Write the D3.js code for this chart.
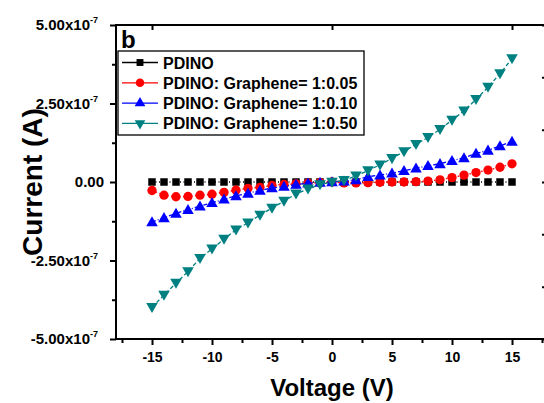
<!DOCTYPE html>
<html>
<head>
<meta charset="utf-8">
<script src="https://cdn.jsdelivr.net/npm/d3@7"></script>
<style>
  body { margin: 0; background: #fff; }
  svg { display: block; font-family: "Liberation Sans", Arial, sans-serif; font-weight: bold; }
</style>
</head>
<body>
<svg width="544" height="403"></svg>
<script>
// напряжение, В
const voltage = d3.range(-15, 16, 1);

// ток, 1e-7 А
const curPdino = [0,0,0,0,0,0,0,0,0,0,0,0,0,0,0,0,0,0,0,0,0,0,0,0,0,0,0,0,0,0,0];
const cur005 = [-0.27,-0.42,-0.47,-0.46,-0.42,-0.39,-0.33,-0.26,-0.2,-0.17,-0.11,-0.08,-0.06,-0.04,-0.02,0,
                -0.03,-0.03,-0.02,-0.01,0,0,0.01,0.03,0.07,0.14,0.22,0.3,0.38,0.47,0.58];
const cur010 = [-1.27,-1.14,-1.0,-0.88,-0.77,-0.66,-0.55,-0.44,-0.36,-0.27,-0.19,-0.14,-0.08,-0.04,-0.01,0,
                0.03,0.07,0.17,0.22,0.28,0.36,0.44,0.52,0.58,0.68,0.77,0.91,1.01,1.15,1.29];
const cur050 = [-3.99,-3.6,-3.22,-2.85,-2.43,-2.13,-1.82,-1.52,-1.3,-1.05,-0.83,-0.61,-0.38,-0.22,-0.08,0,
                0.05,0.2,0.36,0.55,0.75,0.97,1.2,1.42,1.68,1.97,2.27,2.63,3.02,3.45,3.93];

const seriesNames = ["PDINO", "PDINO: Graphene= 1:0.05", "PDINO: Graphene= 1:0.10", "PDINO: Graphene= 1:0.50"];
const seriesColors = ["#000000", "#ff0000", "#0000ff", "#008080"];

const xTicks = [-15, -10, -5, 0, 5, 10, 15];
const xMinor = [-17.5, -12.5, -7.5, -2.5, 2.5, 7.5, 12.5, 17.5];
const yTicks = [-5e-7, -2.5e-7, 0, 2.5e-7, 5e-7];
const yLabels = ["-5.00x10", "-2.50x10", "0.00", "2.50x10", "5.00x10"];
const yMinor = [-3.75e-7, -1.25e-7, 1.25e-7, 3.75e-7];
const topTicks = [-15, 0, 15];

const svg = d3.select("svg");

const area = { left: 116, right: 548, top: 25, bottom: 339 };

const scX = d3.scaleLinear().domain([-18, 18]).range([area.left, area.right]);
const scY = d3.scaleLinear().domain([-5e-7, 5e-7]).range([area.bottom, area.top]);
const scY2 = d3.scaleLinear().domain([0, 6]).range([area.bottom, area.top]);

// оси
function styleAxis(g) {
    g.select(".domain").remove();
    g.selectAll("line").attr("stroke", "#000").attr("stroke-width", 2);
    g.selectAll("text").attr("fill", "#000").style("font-size", "14px").style("font-weight", "bold");
}

svg.append("g")
    .attr("transform", `translate(0, ${area.bottom})`)
    .call(d3.axisBottom(scX).tickValues(xTicks).tickSize(6).tickPadding(7).tickFormat(d => String(d)))
    .call(styleAxis);

svg.append("g")
    .attr("transform", `translate(0, ${area.bottom})`)
    .call(d3.axisBottom(scX).tickValues(xMinor).tickSize(4).tickFormat(""))
    .call(styleAxis);

svg.append("g")
    .attr("transform", `translate(${area.left}, 0)`)
    .call(d3.axisLeft(scY).tickValues(yTicks).tickSize(6).tickFormat(""))
    .call(styleAxis);

svg.append("g")
    .attr("transform", `translate(${area.left}, 0)`)
    .call(d3.axisLeft(scY).tickValues(yMinor).tickSize(4).tickFormat(""))
    .call(styleAxis);

// подписи оси Y с показателем степени
yTicks.forEach((v, i) => {
    const t = svg.append("text")
        .attr("x", v === 0 ? area.left - 12 : area.left - 18)
        .attr("y", scY(v) + 5)
        .attr("text-anchor", "end")
        .style("font-size", "15px");
    t.append("tspan").text(yLabels[i]);
    if (v !== 0) {
        t.append("tspan").attr("dy", -7).style("font-size", "9px").text("-7");
    }
});

svg.append("g")
    .attr("transform", `translate(0, ${area.top})`)
    .call(d3.axisTop(scX).tickValues(topTicks).tickSize(-5).tickFormat(""))
    .call(styleAxis);

svg.append("g")
    .attr("transform", `translate(${area.right}, 0)`)
    .call(d3.axisRight(scY2).tickValues(d3.range(0, 7)).tickSize(-6).tickFormat(""))
    .call(styleAxis);

// рамка
svg.append("rect")
    .attr("x", area.left).attr("y", area.top)
    .attr("width", area.right - area.left).attr("height", area.bottom - area.top)
    .attr("fill", "none").attr("stroke", "#000").attr("stroke-width", 2);

// данные
const allSeries = [curPdino, cur005, cur010, cur050];
const dashes = ["1,2.5", "1.5,2.5", "4,2,1,2", "4,2.5"];
const symbols = [
    { type: d3.symbolSquare, size: 56, rot: 0 },
    { type: d3.symbolCircle, size: 68, rot: 0 },
    { type: d3.symbolTriangle, size: 58, rot: 0 },
    { type: d3.symbolTriangle, size: 58, rot: 180 }
];

const line = d3.line().x(d => scX(d[0])).y(d => scY(d[1] * 1e-7));

allSeries.forEach((vals, i) => {
    const pts = voltage.map((v, j) => [v, vals[j]]);
    svg.append("path")
        .datum(pts)
        .attr("d", line)
        .attr("fill", "none")
        .attr("stroke", seriesColors[i])
        .attr("stroke-width", 1.3)
        .attr("stroke-dasharray", dashes[i]);
    svg.selectAll(".m" + i)
        .data(pts)
        .enter()
        .append("path")
        .attr("class", "m" + i)
        .attr("d", d3.symbol().type(symbols[i].type).size(symbols[i].size))
        .attr("transform", d => `translate(${scX(d[0])}, ${scY(d[1] * 1e-7) + (i === 3 ? -1 : i === 2 ? 1 : 0)}) rotate(${symbols[i].rot})`)
        .attr("fill", seriesColors[i]);
});

// легенда
const leg = { x: 118, y: 51, w: 246, h: 84, row: 20.3 };
svg.append("rect")
    .attr("x", leg.x).attr("y", leg.y).attr("width", leg.w).attr("height", leg.h)
    .attr("fill", "#fff").attr("stroke", "#000").attr("stroke-width", 1.3);

seriesNames.forEach((name, i) => {
    const cy = leg.y + 11.5 + i * leg.row;
    svg.append("line")
        .attr("x1", leg.x + 4).attr("x2", leg.x + 40)
        .attr("y1", cy).attr("y2", cy)
        .attr("stroke", seriesColors[i]).attr("stroke-width", 1.3);
    svg.append("path")
        .attr("d", d3.symbol().type(symbols[i].type).size(symbols[i].size * 0.85))
        .attr("transform", `translate(${leg.x + 22}, ${cy}) rotate(${symbols[i].rot})`)
        .attr("fill", seriesColors[i]);
    svg.append("text")
        .attr("x", leg.x + 45).attr("y", cy + 6)
        .style("font-size", "16px")
        .text(name);
});

// буква панели
svg.append("text").attr("x", 121).attr("y", 48).style("font-size", "24px").text("b");

// подписи осей
svg.append("text")
    .attr("x", (scX(-18) + scX(18)) / 2).attr("y", 396)
    .attr("text-anchor", "middle")
    .style("font-size", "24px")
    .text("Voltage (V)");

svg.append("text")
    .attr("transform", `translate(42, ${scY(0)}) rotate(-90)`)
    .attr("text-anchor", "middle")
    .style("font-size", "28px")
    .text("Current (A)");
</script>
</body>
</html>
